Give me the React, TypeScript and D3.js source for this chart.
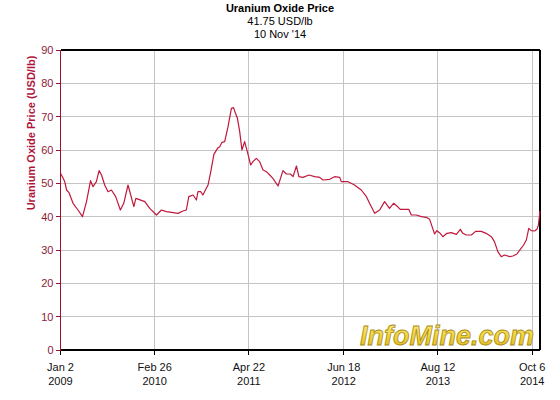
import React from "react";
import * as d3 from "d3";

// ---- Data ----
const dates: string[] = [
  "2009-01-02","2009-01-14","2009-01-21","2009-01-29","2009-02-09","2009-02-27","2009-03-21","2009-04-10",
  "2009-04-28","2009-05-16","2009-05-27","2009-06-11","2009-06-23","2009-07-04","2009-07-18","2009-08-02",
  "2009-08-17","2009-09-05","2009-09-26","2009-10-11","2009-10-30","2009-11-25","2009-12-04","2010-01-13",
  "2010-02-04","2010-03-06","2010-03-28","2010-04-19","2010-05-12","2010-06-10","2010-07-02","2010-07-17",
  "2010-07-28","2010-08-16","2010-08-31","2010-09-07","2010-09-19","2010-09-29","2010-10-10","2010-10-22",
  "2010-11-03","2010-11-17","2010-12-03","2010-12-13","2010-12-23","2011-01-04","2011-01-19","2011-02-03",
  "2011-02-13","2011-02-21","2011-03-02","2011-03-12","2011-03-22","2011-04-03","2011-04-15","2011-04-30",
  "2011-05-10","2011-05-25","2011-06-09","2011-06-24","2011-07-09","2011-07-24","2011-08-07","2011-08-30",
  "2011-09-21","2011-10-06","2011-10-24","2011-11-05","2011-11-20","2011-12-01","2011-12-19","2012-01-15",
  "2012-02-09","2012-03-03","2012-03-17","2012-04-16","2012-05-08","2012-05-31","2012-06-07","2012-07-07",
  "2012-08-05","2012-09-04","2012-09-27","2012-10-11","2012-11-03","2012-11-25","2012-12-17","2013-01-08",
  "2013-01-26","2013-02-10","2013-02-25","2013-04-04","2013-04-15","2013-05-07","2013-05-30","2013-06-21",
  "2013-07-06","2013-07-18","2013-07-28","2013-08-07","2013-08-19","2013-09-03","2013-09-21","2013-10-10",
  "2013-11-02","2013-11-20","2013-12-01","2013-12-16","2014-01-08","2014-01-27","2014-02-21","2014-03-15",
  "2014-04-07","2014-04-21","2014-05-06","2014-05-21","2014-06-05","2014-06-28","2014-07-12","2014-07-30",
  "2014-08-14","2014-08-29","2014-09-10","2014-09-21","2014-10-02","2014-10-17","2014-10-27","2014-11-03",
  "2014-11-10",
];
const prices: number[] = [
  53.0, 51.5, 50.5, 48.0, 47.2, 44.0, 42.0, 40.0,
  44.5, 50.8, 49.0, 50.5, 53.8, 52.5, 49.5, 47.5,
  48.0, 46.0, 42.0, 44.0, 49.5, 43.0, 45.5, 44.5,
  42.5, 40.5, 42.0, 41.5, 41.3, 41.0, 41.7, 42.0,
  46.0, 46.5, 45.0, 47.5, 47.5, 46.5, 48.0, 49.5,
  53.5, 58.7, 60.5, 61.0, 62.3, 62.5, 67.0, 72.5,
  72.7, 71.0, 69.5, 65.5, 60.0, 62.5, 59.5, 55.5,
  56.5, 57.5, 56.5, 54.0, 53.5, 52.5, 51.5, 49.2,
  53.8, 52.8, 52.8, 52.0, 55.2, 52.0, 51.8, 52.5,
  52.0, 51.8, 51.0, 51.2, 52.0, 51.8, 50.5, 50.5,
  49.5, 48.0, 46.0, 44.0, 41.0, 42.0, 44.5, 42.5,
  44.0, 43.2, 42.2, 42.2, 40.5, 40.5, 40.0, 39.8,
  39.2, 36.8, 34.8, 35.8, 35.2, 34.0, 35.0, 35.2,
  34.7, 36.2, 35.0, 34.5, 34.5, 35.6, 35.6, 35.0,
  34.0, 32.5, 29.5, 28.0, 28.5, 28.0, 28.2, 28.8,
  30.2, 31.5, 33.0, 36.5, 35.8, 35.7, 36.2, 37.5,
  41.75,
];
const xTickDates: string[] = ["2009-01-02", "2010-02-26", "2011-04-22", "2012-06-18", "2013-08-12", "2014-10-06"];
const xTickLine1: string[] = ["Jan 2", "Feb 26", "Apr 22", "Jun 18", "Aug 12", "Oct 6"];
const xTickLine2: string[] = ["2009", "2010", "2011", "2012", "2013", "2014"];
const yTicks: number[] = [0, 10, 20, 30, 40, 50, 60, 70, 80, 90];
const titleLines: string[] = ["Uranium Oxide Price", "41.75 USD/lb", "10 Nov '14"];
const yAxisTitle = "Uranium Oxide Price (USD/lb)";
const watermark = "InfoMine.com";
const domainStart = "2009-01-02";
const domainEnd = "2014-11-10";

export default function App() {
  const W = 560, H = 400;
  const left = 60.5, right = 540, top = 50, bottom = 350;
  const parse = d3.utcParse("%Y-%m-%d");
  const x = d3.scaleUtc().domain([parse(domainStart)!, parse(domainEnd)!]).range([left, right]);
  const y = d3.scaleLinear().domain([0, 90]).range([bottom, top]);
  const pts = dates.map((d, i) => ({ d: parse(d)!, v: prices[i] }));
  const line = d3.line<{ d: Date; v: number }>().x(p => x(p.d)).y(p => y(p.v));
  const font = "'Liberation Sans', Arial, sans-serif";
  const axisRed = "#9e1030";
  const labelRed = "#8c1a36";
  return (
    <svg width={W} height={H} style={{ position: "absolute", left: 0, top: 0, background: "#fff" }}
      fontFamily={font}>
      <rect x={0} y={0} width={W} height={H} fill="#fff" />
      {/* titles */}
      <text x={280} y={11.5} textAnchor="middle" fontSize={11} fontWeight="bold" fill="#000">{titleLines[0]}</text>
      <text x={280} y={25} textAnchor="middle" fontSize={11} fill="#000">{titleLines[1]}</text>
      <text x={280} y={38} textAnchor="middle" fontSize={11} fill="#000">{titleLines[2]}</text>
      {/* grid */}
      <g stroke="#c4c4c4" strokeWidth={1} shapeRendering="crispEdges">
        {yTicks.filter(t => t > 0 && t < 90).map(t => (
          <line key={"gy" + t} x1={left} x2={right} y1={y(t)} y2={y(t)} />
        ))}
        {xTickDates.map(d => (
          <line key={"gx" + d} x1={x(parse(d)!)} x2={x(parse(d)!)} y1={top} y2={bottom} />
        ))}
      </g>
      {/* watermark */}
      <defs>
        <linearGradient id="wm" x1="0" y1="0" x2="0" y2="1">
          <stop offset="0" stopColor="#fbef8a" />
          <stop offset="0.5" stopColor="#f1d43a" />
          <stop offset="1" stopColor="#d9b320" />
        </linearGradient>
      </defs>
      <text x={447} y={345} textAnchor="middle" fontSize={27} fontWeight="bold" fontStyle="italic"
        fontFamily="'Liberation Sans', Arial, sans-serif"
        fill="url(#wm)" stroke="#a88a18" strokeWidth={0.8}>{watermark}</text>
      {/* border top & right */}
      <g stroke="#000" strokeWidth={1.3} shapeRendering="crispEdges">
        <line x1={left} x2={right} y1={top} y2={top} />
        <line x1={right} x2={right} y1={top} y2={bottom} />
      </g>
      {/* line */}
      <path d={line(pts) || ""} fill="none" stroke="#c0183c" strokeWidth={1.2} strokeLinejoin="round" />
      {/* x axis */}
      <g shapeRendering="crispEdges">
        <line x1={left} x2={right} y1={bottom} y2={bottom} stroke="#000" strokeWidth={1.3} />
        {xTickDates.map(d => (
          <line key={"xt" + d} x1={x(parse(d)!)} x2={x(parse(d)!)} y1={bottom} y2={bottom + 5} stroke="#000" />
        ))}
      </g>
      {xTickDates.map((d, i) => (
        <g key={"xl" + d}>
          <text x={x(parse(d)!)} y={371} textAnchor="middle" fontSize={11} fill="#111">{xTickLine1[i]}</text>
          <text x={x(parse(d)!)} y={385} textAnchor="middle" fontSize={11} fill="#111">{xTickLine2[i]}</text>
        </g>
      ))}
      {/* y axis */}
      <g shapeRendering="crispEdges">
        <line x1={left} x2={left} y1={top} y2={bottom} stroke={axisRed} strokeWidth={1.3} />
        {yTicks.map(t => (
          <line key={"yt" + t} x1={left - 5} x2={left} y1={y(t)} y2={y(t)} stroke={axisRed} />
        ))}
      </g>
      {yTicks.map(t => (
        <text key={"yl" + t} x={53.5} y={y(t) + 4} textAnchor="end" fontSize={11} fill={labelRed}>{t}</text>
      ))}
      <text transform="translate(35,133) rotate(-90)" textAnchor="middle" fontSize={11} fontWeight="bold"
        fill="#b0143a">{yAxisTitle}</text>
    </svg>
  );
}
